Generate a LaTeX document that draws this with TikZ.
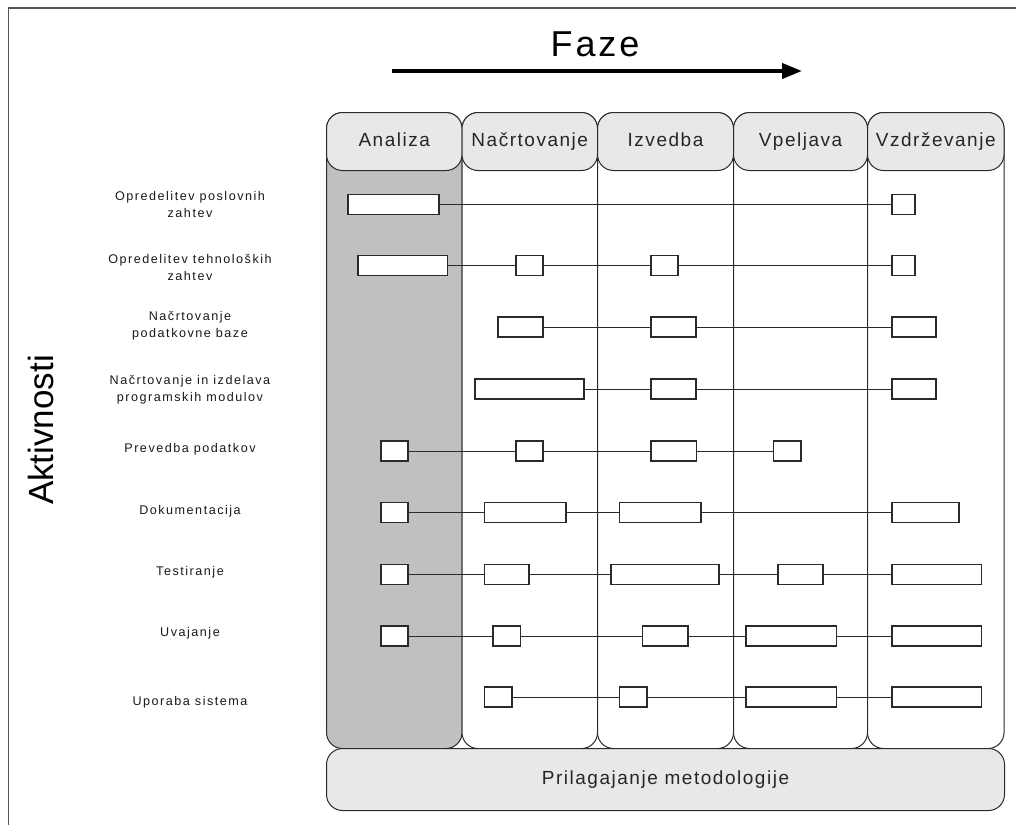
\documentclass[tikz,border=0pt]{standalone}
\usepackage{fontspec}
\setmainfont{Liberation Sans}
\newfontfamily\hdfont[LetterSpace=8]{Liberation Sans}
\newfontfamily\lbfont[LetterSpace=12]{Liberation Sans}
\usetikzlibrary{arrows.meta}
\definecolor{hdfill}{HTML}{E8E8E8}
\definecolor{anfill}{HTML}{C0C0C0}
\definecolor{edge}{HTML}{2A2A2A}
\definecolor{framec}{HTML}{555555}

% task bar: name, left x, right x, row y
\newcommand\tbox[4]{\node[task, minimum width={(#3-#2)*1pt}] (#1) at ({(#2+#3)/2},#4) {};}

\begin{document}
\begin{tikzpicture}[x=1pt,y=-1pt,
  colbody/.style={draw=edge, line width=1pt, rounded corners=16pt, anchor=north west,
    minimum height=636pt, inner sep=0pt, fill=white},
  hdr/.style={draw=edge, line width=1pt, fill=hdfill, rounded corners=16pt, anchor=north west,
    minimum height=58pt, inner sep=0pt, text height=14pt, text depth=4pt,
    font=\hdfont\fontsize{19}{22}\selectfont, text=black!85},
  task/.style={draw=edge, fill=white, line width=1.3pt, minimum height=20pt, inner sep=0pt},
  link/.style={draw=edge, line width=1pt},
  lbl/.style={align=center, font=\lbfont\fontsize{12.6}{17}\selectfont, inner sep=0pt, text=black!90}
]
\useasboundingbox (0,0) rectangle (1016,825);

% outer frame
\draw[framec, line width=1.6pt] (1016,8) -- (8.5,8) -- (8.5,825);

% titles
\node[font=\hdfont\fontsize{36}{40}\selectfont] (faze) at (595,44) {Faze};
\coordinate (fs) at (392,71);
\coordinate (fe) at (802,71);
\draw[line width=4pt, -{Triangle[length=20pt,width=15pt]}] (fs) -- (fe);
\node[rotate=90, font=\fontsize{35}{40}\selectfont] (akt) at (41,430) {Aktivnosti};

% phase columns
\node[colbody, fill=anfill, minimum width=135.5pt] (c1) at (326,112) {};
\node[colbody, minimum width=135.5pt] (c2) at (461.5,112) {};
\node[colbody, minimum width=136pt] (c3) at (597,112) {};
\node[colbody, minimum width=134pt] (c4) at (733,112) {};
\node[colbody, minimum width=136.5pt] (c5) at (867,112) {};

\node[hdr, minimum width=135.5pt] (h1) at (326,112) {Analiza};
\node[hdr, minimum width=135.5pt] (h2) at (461.5,112) {Načrtovanje};
\node[hdr, minimum width=136pt] (h3) at (597,112) {Izvedba};
\node[hdr, minimum width=134pt] (h4) at (733,112) {Vpeljava};
\node[hdr, minimum width=136.5pt] (h5) at (867,112) {Vzdrževanje};

% methodology bar
\node[hdr, minimum width=678pt, minimum height=62pt] (prm) at (326,748) {Prilagajanje metodologije};

% activity labels
\node[lbl] (l1) at (190,204.5) {Opredelitev poslovnih\\zahtev};
\node[lbl] (l2) at (190,267.5) {Opredelitev tehnoloških\\zahtev};
\node[lbl] (l3) at (190,325.5) {Načrtovanje\\podatkovne baze};
\node[lbl] (l4) at (190,390) {Načrtovanje in izdelava\\programskih modulov};
\node[lbl] (l5) at (190,449) {Prevedba podatkov};
\node[lbl] (l6) at (190,511) {Dokumentacija};
\node[lbl] (l7) at (190,572) {Testiranje};
\node[lbl] (l8) at (190,633) {Uvajanje};
\node[lbl] (l9) at (190,702) {Uporaba sistema};

% row 1
\tbox{a1}{348}{439}{204.5}
\tbox{a2}{892}{915}{204.5}
\draw[link] (a1.east) -- (a2.west);
% row 2
\tbox{b1}{358}{447.5}{265.5}
\tbox{b2}{516}{543}{265.5}
\tbox{b3}{651}{678}{265.5}
\tbox{b4}{892}{915}{265.5}
\draw[link] (b1.east) -- (b2.west) (b2.east) -- (b3.west) (b3.east) -- (b4.west);
% row 3
\tbox{c1b}{498}{543}{327}
\tbox{c2b}{651}{696}{327}
\tbox{c3b}{892}{936}{327}
\draw[link] (c1b.east) -- (c2b.west) (c2b.east) -- (c3b.west);
% row 4
\tbox{d1}{475}{584}{389}
\tbox{d2}{651}{696}{389}
\tbox{d3}{892}{936}{389}
\draw[link] (d1.east) -- (d2.west) (d2.east) -- (d3.west);
% row 5
\tbox{e1}{381}{408}{451}
\tbox{e2}{516}{543}{451}
\tbox{e3}{651}{696.5}{451}
\tbox{e4}{773.5}{801}{451}
\draw[link] (e1.east) -- (e2.west) (e2.east) -- (e3.west) (e3.east) -- (e4.west);
% row 6
\tbox{f1}{381}{408}{512.5}
\tbox{f2}{484.5}{566}{512.5}
\tbox{f3}{619.5}{701}{512.5}
\tbox{f4}{892}{959}{512.5}
\draw[link] (f1.east) -- (f2.west) (f2.east) -- (f3.west) (f3.east) -- (f4.west);
% row 7
\tbox{g1}{381}{408}{574.5}
\tbox{g2}{484.5}{529}{574.5}
\tbox{g3}{611}{719}{574.5}
\tbox{g4}{778}{823}{574.5}
\tbox{g5}{892}{981.5}{574.5}
\draw[link] (g1.east) -- (g2.west) (g2.east) -- (g3.west) (g3.east) -- (g4.west) (g4.east) -- (g5.west);
% row 8
\tbox{k1}{381}{408}{636}
\tbox{k2}{493}{520.5}{636}
\tbox{k3}{642.5}{688}{636}
\tbox{k4}{746}{836.5}{636}
\tbox{k5}{892}{981.5}{636}
\draw[link] (k1.east) -- (k2.west) (k2.east) -- (k3.west) (k3.east) -- (k4.west) (k4.east) -- (k5.west);
% row 9
\tbox{m1}{484.5}{512}{697}
\tbox{m2}{619.5}{647}{697}
\tbox{m3}{746}{836.5}{697}
\tbox{m4}{892}{981.5}{697}
\draw[link] (m1.east) -- (m2.west) (m2.east) -- (m3.west) (m3.east) -- (m4.west);
\end{tikzpicture}
\end{document}
